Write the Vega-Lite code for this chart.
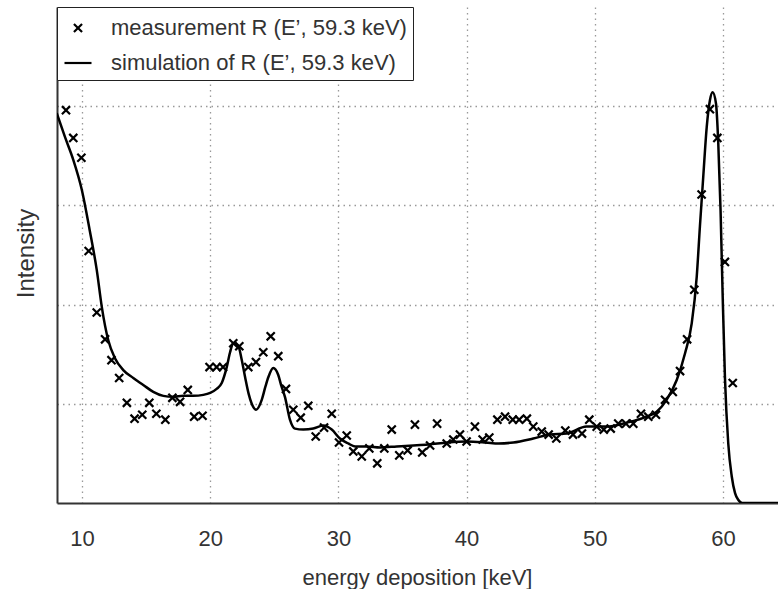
{
  "$schema": "https://vega.github.io/schema/vega-lite/v6.json",
  "autosize": {"type": "none"},
  "width": 721,
  "height": 496,
  "padding": {"left": 57, "top": 7, "right": 0, "bottom": 86},
  "background": "white",
  "config": {
    "view": {"stroke": null},
    "font": "Liberation Sans",
    "axis": {
      "labelFont": "Liberation Sans",
      "titleFont": "Liberation Sans",
      "labelColor": "#333",
      "titleColor": "#333",
      "titleFontWeight": "normal",
      "domainColor": "#333",
      "domainWidth": 2,
      "ticks": false,
      "gridColor": "#999999",
      "gridDash": [1.5, 4],
      "gridWidth": 1.3
    },
    "legend": {
      "labelFont": "Liberation Sans",
      "labelFontSize": 22,
      "labelColor": "#333",
      "labelLimit": 500
    }
  },
  "datasets": {
    "meas": [
      {"x": 8.75, "y": 3.96}, {"x": 9.32, "y": 3.68}, {"x": 9.95, "y": 3.48}, {"x": 10.52, "y": 2.54},
      {"x": 11.15, "y": 1.92}, {"x": 11.8, "y": 1.65}, {"x": 12.3, "y": 1.44}, {"x": 12.9, "y": 1.26},
      {"x": 13.5, "y": 1.01}, {"x": 14.1, "y": 0.85}, {"x": 14.7, "y": 0.89}, {"x": 15.25, "y": 1.01},
      {"x": 15.8, "y": 0.9}, {"x": 16.5, "y": 0.84}, {"x": 17.05, "y": 1.06}, {"x": 17.65, "y": 1.02},
      {"x": 18.25, "y": 1.14}, {"x": 18.75, "y": 0.87}, {"x": 19.4, "y": 0.88}, {"x": 19.95, "y": 1.37},
      {"x": 20.5, "y": 1.37}, {"x": 21.0, "y": 1.37}, {"x": 21.8, "y": 1.61}, {"x": 22.27, "y": 1.58},
      {"x": 22.97, "y": 1.37}, {"x": 23.57, "y": 1.42}, {"x": 24.14, "y": 1.52}, {"x": 24.72, "y": 1.68},
      {"x": 25.31, "y": 1.48}, {"x": 25.91, "y": 1.15}, {"x": 26.48, "y": 0.94}, {"x": 27.06, "y": 0.86},
      {"x": 27.65, "y": 0.98}, {"x": 28.23, "y": 0.67}, {"x": 28.88, "y": 0.76}, {"x": 29.48, "y": 0.9},
      {"x": 30.05, "y": 0.61}, {"x": 30.65, "y": 0.68}, {"x": 31.16, "y": 0.52}, {"x": 31.82, "y": 0.47},
      {"x": 32.41, "y": 0.55}, {"x": 33.03, "y": 0.4}, {"x": 33.58, "y": 0.55}, {"x": 34.16, "y": 0.74},
      {"x": 34.75, "y": 0.48}, {"x": 35.4, "y": 0.53}, {"x": 35.97, "y": 0.79}, {"x": 36.54, "y": 0.51},
      {"x": 37.15, "y": 0.58}, {"x": 37.7, "y": 0.8}, {"x": 38.45, "y": 0.6}, {"x": 38.96, "y": 0.64},
      {"x": 39.48, "y": 0.69}, {"x": 40.0, "y": 0.62}, {"x": 40.65, "y": 0.77}, {"x": 41.25, "y": 0.64},
      {"x": 41.77, "y": 0.66}, {"x": 42.4, "y": 0.84}, {"x": 43.0, "y": 0.87}, {"x": 43.6, "y": 0.84},
      {"x": 44.1, "y": 0.84}, {"x": 44.7, "y": 0.85}, {"x": 45.2, "y": 0.77}, {"x": 45.86, "y": 0.72},
      {"x": 46.4, "y": 0.69}, {"x": 47.0, "y": 0.65}, {"x": 47.7, "y": 0.73}, {"x": 48.3, "y": 0.69},
      {"x": 49.0, "y": 0.7}, {"x": 49.57, "y": 0.84}, {"x": 50.15, "y": 0.77}, {"x": 50.7, "y": 0.74},
      {"x": 51.24, "y": 0.75}, {"x": 51.83, "y": 0.8}, {"x": 52.43, "y": 0.8}, {"x": 53.0, "y": 0.8},
      {"x": 53.6, "y": 0.9}, {"x": 54.17, "y": 0.87}, {"x": 54.77, "y": 0.89}, {"x": 55.48, "y": 1.04},
      {"x": 56.08, "y": 1.12}, {"x": 56.65, "y": 1.33}, {"x": 57.2, "y": 1.65}, {"x": 57.76, "y": 2.15},
      {"x": 58.33, "y": 3.11}, {"x": 58.98, "y": 3.97}, {"x": 59.56, "y": 3.68}, {"x": 60.15, "y": 2.43},
      {"x": 60.76, "y": 1.21}
    ],
    "sim": [
      {"x": 8.03, "y": 3.93}, {"x": 8.67, "y": 3.69}, {"x": 9.32, "y": 3.46}, {"x": 9.98, "y": 3.16},
      {"x": 10.6, "y": 2.75}, {"x": 11.15, "y": 2.35}, {"x": 11.54, "y": 1.98}, {"x": 12.05, "y": 1.64},
      {"x": 12.57, "y": 1.46}, {"x": 13.22, "y": 1.34}, {"x": 14.0, "y": 1.26}, {"x": 14.78, "y": 1.19},
      {"x": 15.56, "y": 1.12}, {"x": 16.34, "y": 1.08}, {"x": 17.12, "y": 1.07}, {"x": 17.9, "y": 1.08},
      {"x": 18.68, "y": 1.08}, {"x": 19.46, "y": 1.09}, {"x": 20.0, "y": 1.11}, {"x": 20.5, "y": 1.15},
      {"x": 20.9, "y": 1.21}, {"x": 21.29, "y": 1.37}, {"x": 21.55, "y": 1.52}, {"x": 21.8, "y": 1.61},
      {"x": 22.2, "y": 1.58}, {"x": 22.45, "y": 1.45}, {"x": 22.72, "y": 1.27}, {"x": 23.0, "y": 1.1},
      {"x": 23.24, "y": 1.0}, {"x": 23.58, "y": 0.94}, {"x": 24.02, "y": 1.04}, {"x": 24.3, "y": 1.17},
      {"x": 24.54, "y": 1.27}, {"x": 24.92, "y": 1.36}, {"x": 25.31, "y": 1.29}, {"x": 25.55, "y": 1.18},
      {"x": 25.83, "y": 1.07}, {"x": 26.22, "y": 0.84}, {"x": 26.61, "y": 0.75}, {"x": 27.26, "y": 0.74},
      {"x": 28.04, "y": 0.75}, {"x": 28.82, "y": 0.78}, {"x": 29.48, "y": 0.74}, {"x": 30.12, "y": 0.65},
      {"x": 30.77, "y": 0.6}, {"x": 31.3, "y": 0.57}, {"x": 32.2, "y": 0.57}, {"x": 33.25, "y": 0.56},
      {"x": 34.55, "y": 0.57}, {"x": 35.85, "y": 0.58}, {"x": 37.0, "y": 0.59}, {"x": 38.5, "y": 0.61},
      {"x": 40.0, "y": 0.62}, {"x": 41.5, "y": 0.61}, {"x": 42.5, "y": 0.6}, {"x": 43.65, "y": 0.61},
      {"x": 45.2, "y": 0.65}, {"x": 46.5, "y": 0.69}, {"x": 47.8, "y": 0.7}, {"x": 49.36, "y": 0.77},
      {"x": 50.9, "y": 0.77}, {"x": 52.5, "y": 0.81}, {"x": 54.05, "y": 0.87}, {"x": 54.83, "y": 0.92},
      {"x": 55.6, "y": 1.04}, {"x": 56.39, "y": 1.24}, {"x": 57.04, "y": 1.51}, {"x": 57.56, "y": 1.81},
      {"x": 57.95, "y": 2.28}, {"x": 58.2, "y": 2.79}, {"x": 58.46, "y": 3.29}, {"x": 58.73, "y": 3.79},
      {"x": 58.98, "y": 4.06}, {"x": 59.19, "y": 4.14}, {"x": 59.45, "y": 4.03}, {"x": 59.63, "y": 3.63},
      {"x": 59.81, "y": 2.95}, {"x": 59.97, "y": 2.11}, {"x": 60.15, "y": 1.27}, {"x": 60.41, "y": 0.6},
      {"x": 60.68, "y": 0.27}, {"x": 60.94, "y": 0.1}, {"x": 61.2, "y": 0.03}, {"x": 61.5, "y": 0},
      {"x": 64.3, "y": 0}
    ]
  },
  "layer": [
    {
      "data": {"name": "sim"},
      "mark": {"type": "line", "color": "black", "strokeWidth": 2.5, "interpolate": "monotone", "clip": true},
      "encoding": {
        "x": {
          "field": "x", "type": "quantitative",
          "scale": {"domain": [8.05, 64.29], "nice": false, "zero": false},
          "axis": {
            "values": [10, 20, 30, 40, 50, 60],
            "title": "energy deposition [keV]",
            "labelFontSize": 22,
            "labelPadding": 25,
            "titleFontSize": 22,
            "titleBaseline": "alphabetic",
            "titleY": 81,
            "titleX": 360,
            "grid": true
          }
        },
        "y": {
          "field": "y", "type": "quantitative",
          "scale": {"domain": [0, 5], "nice": false},
          "axis": {
            "values": [1, 2, 3, 4],
            "labels": false,
            "title": "Intensity",
            "titleFontSize": 24,
            "titleAngle": 270,
            "titleBaseline": "alphabetic",
            "titleAlign": "center",
            "titleX": -24,
            "titleY": 246,
            "grid": true
          }
        }
      }
    },
    {
      "data": {"name": "meas"},
      "mark": {"type": "point", "filled": false, "stroke": "black", "strokeWidth": 2.2, "size": 729, "opacity": 1, "clip": true},
      "encoding": {
        "x": {"field": "x", "type": "quantitative"},
        "y": {"field": "y", "type": "quantitative"},
        "shape": {
          "datum": "measurement R (E’, 59.3 keV)",
          "type": "nominal",
          "scale": {
            "domain": ["measurement R (E’, 59.3 keV)", "simulation of R (E’, 59.3 keV)"],
            "range": ["M-0.3,-0.3L0.3,0.3M-0.3,0.3L0.3,-0.3", "M-1,0L1,0"]
          },
          "legend": {
            "title": null,
            "orient": "top-left",
            "offset": 0,
            "padding": 6,
            "rowPadding": 9,
            "labelOffset": 18,
            "symbolSize": 729,
            "symbolStrokeWidth": 2.2,
            "symbolStrokeColor": "black",
            "strokeColor": "#222",
            "fillColor": "white",
            "symbolType": "stroke"
          }
        }
      }
    },
    {
      "mark": {"type": "rule", "color": "#333", "strokeWidth": 2},
      "encoding": {"y": {"datum": 5}}
    }
  ]
}
